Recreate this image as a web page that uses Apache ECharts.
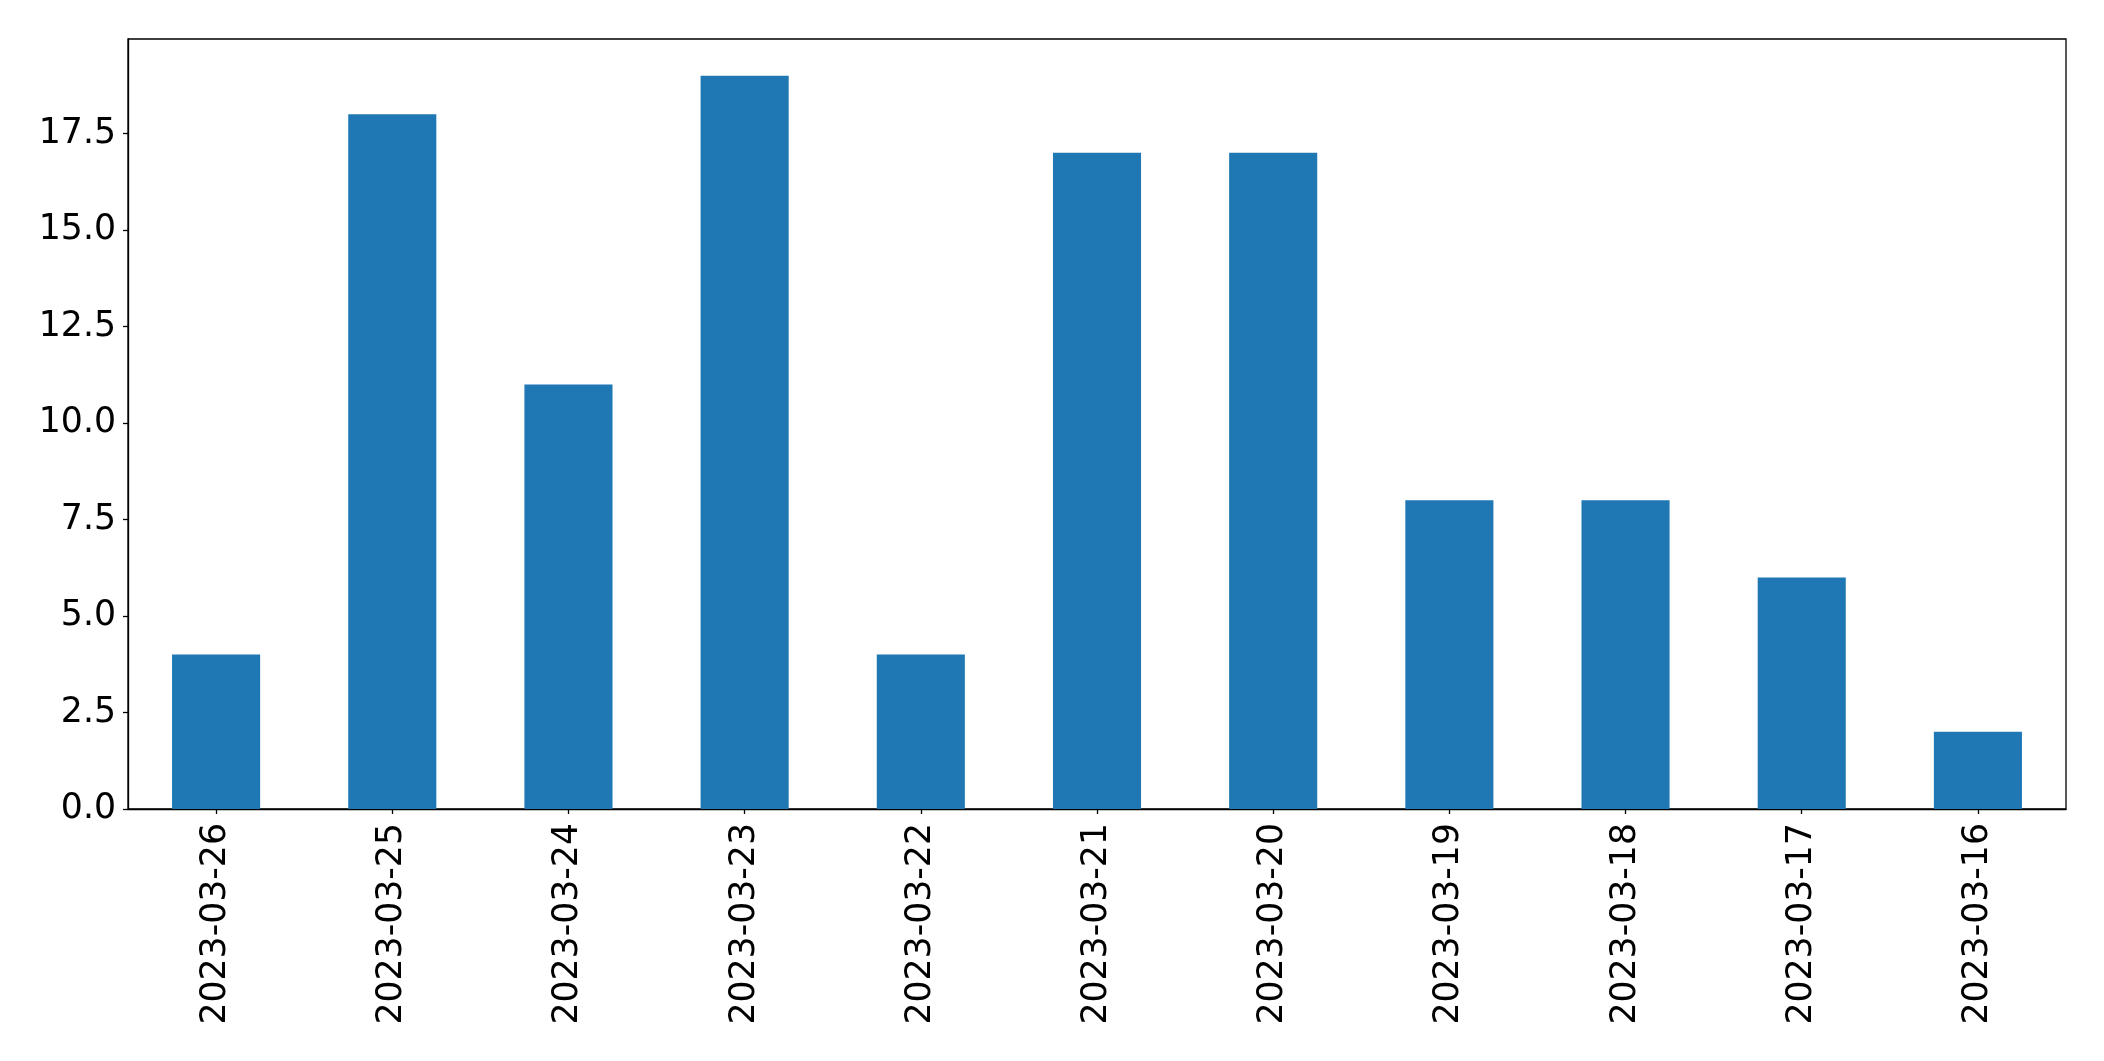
<!DOCTYPE html>
<html>
<head>
<meta charset="utf-8">
<script src="https://cdn.jsdelivr.net/npm/echarts@6/dist/echarts.min.js"></script>
<style>
html,body{margin:0;padding:0;background:#fff;}
#chart{width:2104px;height:1061px;}
</style>
</head>
<body>
<div id="chart"></div>
<script>
const categories = ['2023-03-26','2023-03-25','2023-03-24','2023-03-23','2023-03-22','2023-03-21','2023-03-20','2023-03-19','2023-03-18','2023-03-17','2023-03-16'];
const values = [4, 18, 11, 19, 4, 17, 17, 8, 8, 6, 2];
const yTicks = [0, 2.5, 5, 7.5, 10, 12.5, 15, 17.5];

const chart = echarts.init(document.getElementById('chart'), null, {renderer: 'canvas'});
const font = 'DejaVu Sans';
chart.setOption({
  animation: false,
  backgroundColor: '#ffffff',
  grid: {
    left: 128, right: 38, top: 39, bottom: 252,
    show: true, borderColor: '#000', borderWidth: 1.3, backgroundColor: 'transparent'
  },
  xAxis: {
    type: 'category',
    data: categories,
    boundaryGap: true,
    axisLine: {show: true, lineStyle: {color: '#000', width: 1.3}},
    axisTick: {show: true, alignWithLabel: true, length: 5, lineStyle: {color: '#000', width: 1.3}},
    axisLabel: {rotate: 90, margin: 14, color: '#000', fontSize: 34.7, fontFamily: font, interval: 0},
    splitLine: {show: false}
  },
  yAxis: {
    type: 'value',
    min: 0,
    max: 19.95,
    axisLine: {show: true, lineStyle: {color: '#000', width: 1.3}},
    axisTick: {show: true, length: 5, customValues: yTicks, lineStyle: {color: '#000', width: 1.3}},
    axisLabel: {
      customValues: yTicks,
      margin: 12, color: '#000', fontSize: 34.7, fontFamily: font,
      formatter: v => Number(v).toFixed(1)
    },
    splitLine: {show: false}
  },
  series: [{
    type: 'bar',
    data: values,
    barWidth: '50%',
    itemStyle: {color: '#1f77b4'}
  }]
});
</script>
</body>
</html>
